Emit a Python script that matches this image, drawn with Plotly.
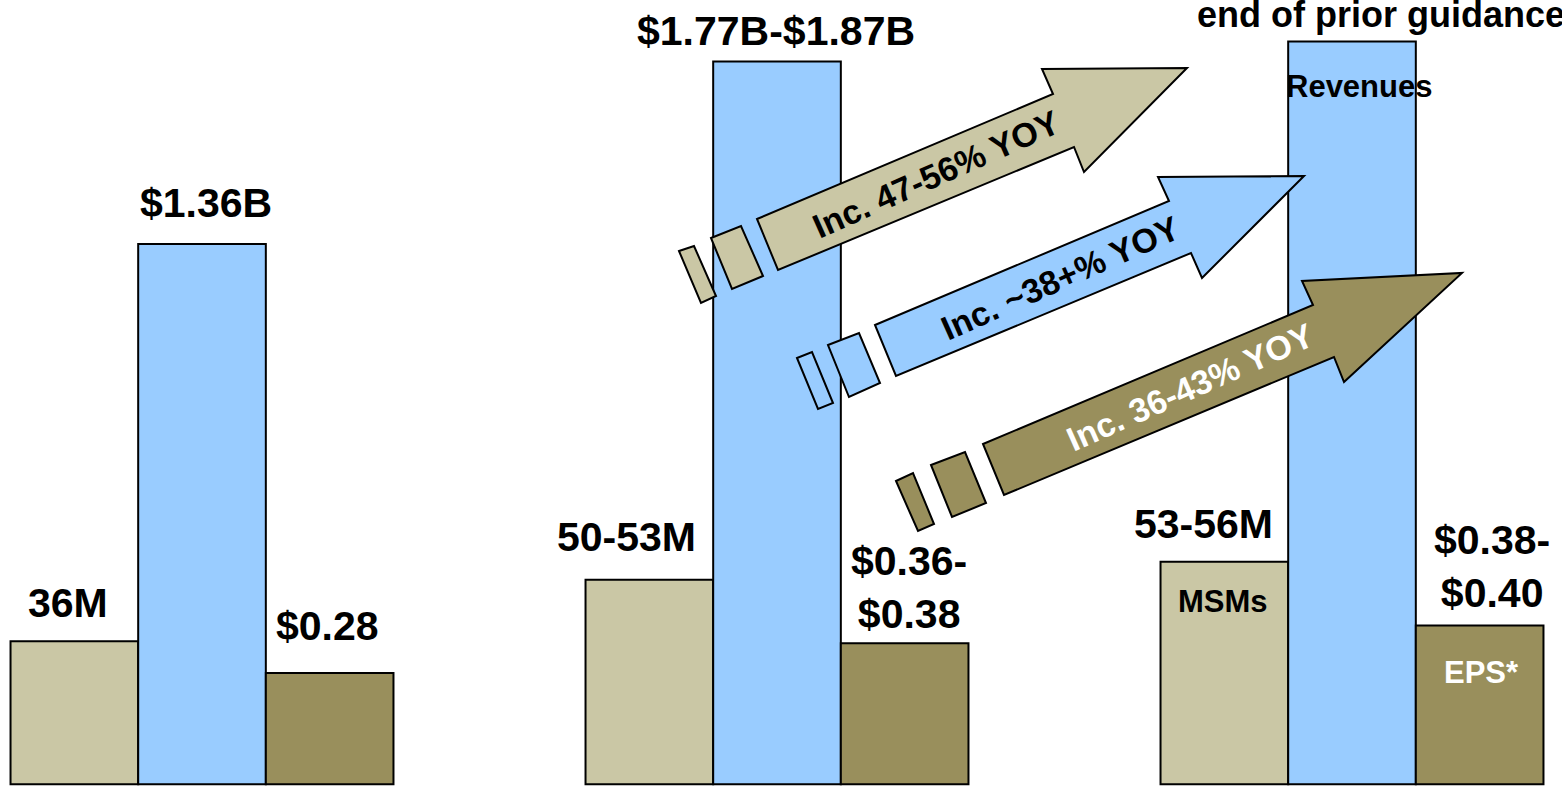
import plotly.graph_objects as go

# ---------------- data ----------------
periods = ["Prior year", "Prior guidance", "Updated guidance"]
msms_millions = [36, 51.5, 56]          # MSMs (drawn at 1 unit = 100M)
revenue_billions = [1.36, 1.82, 1.87]   # Revenues ($B)
eps_dollars = [0.28, 0.355, 0.40]       # EPS ($)

msm_labels = ["36M", "50-53M", "53-56M"]
rev_labels = ["$1.36B", "$1.77B-$1.87B", None]
eps_labels = ["$0.28", "$0.36-<br>$0.38", "$0.38-<br>$0.40"]

arrow_texts = ["Inc. 47-56% YOY", "Inc. ~38+% YOY", "Inc. 36-43% YOY"]

# ---------------- style ----------------
W, H = 1562, 791
TAN = "#CAC7A5"
BLUE = "#99CCFF"
OLIVE = "#998F5C"
FONT = "Liberation Sans, Arial, Helvetica, sans-serif"

x = [0, 1, 2]
msm_plot = [v / 100 for v in msms_millions]

fig = go.Figure()
for name, vals, col in [("MSMs", msm_plot, TAN),
                        ("Revenues", revenue_billions, BLUE),
                        ("EPS*", eps_dollars, OLIVE)]:
    fig.add_trace(go.Bar(x=x, y=vals, name=name, marker_color=col,
                         marker_line_color="black", marker_line_width=2,
                         hoverinfo="skip"))


def px(v):
    return v / W


def py(v):
    return 1 - v / H


def path(points):
    s = "M " + " L ".join(f"{px(a):.5f},{py(b):.5f}" for a, b in points) + " Z"
    return s


arrows = [
    dict(color=TAN,
         body=[(757, 219), (1053, 94), (1042, 69), (1187, 68), (1084, 172), (1074, 147), (778, 270)],
         blocks=[[(679, 251), (694, 246), (716, 296), (701, 303)],
                 [(711, 238), (741, 226), (763, 276), (732, 289)]],
         text_pos=(936, 174), text_color="black"),
    dict(color=BLUE,
         body=[(875, 325), (1169, 201), (1158, 177), (1304, 176), (1202, 278), (1191, 253), (896, 376)],
         blocks=[[(797, 358), (812, 352), (833, 403), (818, 409)],
                 [(828, 345), (859, 333), (880, 383), (849, 397)]],
         text_pos=(1060, 278), text_color="black"),
    dict(color=OLIVE,
         body=[(983, 444), (1313, 305), (1302, 281), (1462, 273), (1344, 382), (1334, 357), (1004, 495)],
         blocks=[[(896, 481), (913, 473), (934, 524), (918, 531)],
                 [(931, 465), (965, 452), (986, 503), (952, 517)]],
         text_pos=(1190, 387), text_color="white"),
]

shapes = []
annotations = []
for a, t in zip(arrows, arrow_texts):
    for blk in a["blocks"]:
        shapes.append(dict(type="path", xref="paper", yref="paper", path=path(blk),
                           fillcolor=a["color"], line=dict(color="black", width=2)))
    shapes.append(dict(type="path", xref="paper", yref="paper", path=path(a["body"]),
                       fillcolor=a["color"], line=dict(color="black", width=2)))
    annotations.append(dict(xref="paper", yref="paper", x=px(a["text_pos"][0]), y=py(a["text_pos"][1]),
                            text=t, showarrow=False, textangle=-24,
                            xanchor="center", yanchor="middle",
                            font=dict(family=FONT, size=34, color=a["text_color"], weight="bold")))


def label(text, cx, cy, size=41, color="black"):
    annotations.append(dict(xref="paper", yref="paper", x=px(cx), y=py(cy), text=text,
                            showarrow=False, xanchor="center", yanchor="middle",
                            font=dict(family=FONT, size=size, color=color, weight="bold")))


# value labels
label(msm_labels[0], 68, 603)
label(rev_labels[0], 206, 203)
label(eps_labels[0], 327, 626)
label(msm_labels[1], 626, 537)
label(rev_labels[1], 776, 31)
label(eps_labels[1], 909, 587)
label(msm_labels[2], 1203, 524)
label(eps_labels[2], 1492, 566)

# series names inside the last group
label("Revenues", 1359, 86, size=31)
label("MSMs", 1223, 601, size=31)
label("EPS*", 1481, 672, size=31, color="white")

# clipped heading at the top-right (cut off by the slide edge in the original)
annotations.append(dict(xref="paper", yref="paper", x=px(1195), y=py(15), text="end of prior guidance",
                        showarrow=False, xanchor="left", yanchor="middle",
                        font=dict(family=FONT, size=36, color="black", weight="bold")))

k = 397.2
y0 = 784.3
fig.update_layout(
    width=W, height=H,
    margin=dict(l=0, r=0, t=0, b=0),
    paper_bgcolor="white", plot_bgcolor="white",
    showlegend=False,
    barmode="group", bargap=0.334, bargroupgap=0,
    xaxis=dict(range=[-202 / 575, (W - 202) / 575], visible=False, fixedrange=True),
    yaxis=dict(range=[(y0 - H) / k, y0 / k], visible=False, fixedrange=True),
    shapes=shapes, annotations=annotations,
)

fig.write_html("out.html", config={"displayModeBar": False},
               post_script="document.body.style.margin='0';")
